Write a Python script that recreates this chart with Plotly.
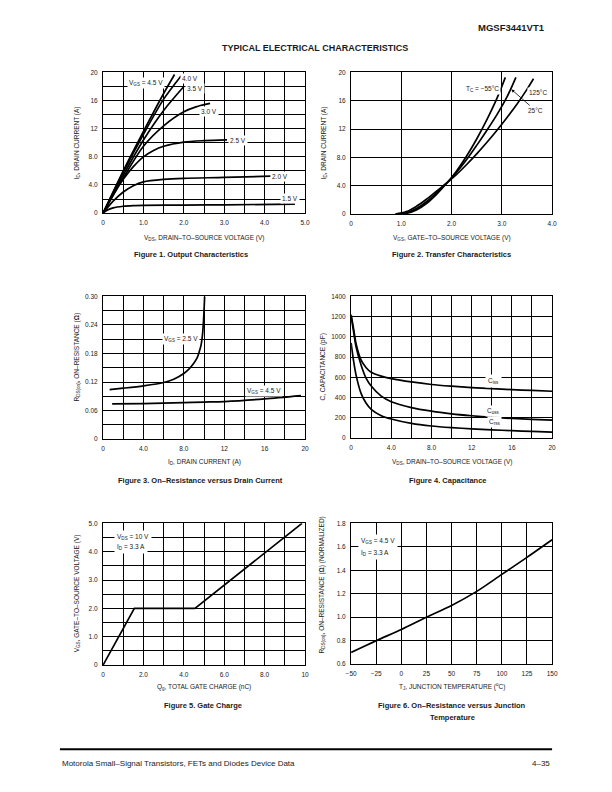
import plotly.graph_objects as go

W, H = 612, 792
FONT = "Liberation Sans, Arial, Helvetica, sans-serif"
TXT = "#1a1a1a"

# ---------------- Data ----------------
# Figure 1: Output characteristics (VDS [V] -> ID [A]) per VGS
f1_vds = {
    "4.5": [0, 0.5, 1.0, 1.5, 1.77],
    "4.0": [0, 0.5, 1.0, 1.5, 1.93],
    "3.5": [0, 0.5, 1.0, 1.5, 2.0],
    "3.0": [0, 0.5, 1.0, 1.5, 2.0, 2.3, 2.65],
    "2.5": [0, 0.25, 0.5, 0.75, 1.0, 1.25, 1.5, 2.0, 2.5, 3.07],
    "2.0": [0, 0.25, 0.5, 0.75, 1.0, 1.5, 2.0, 3.0, 4.15],
    "1.5": [0, 0.1, 0.25, 0.5, 0.75, 1.0, 2.0, 3.0, 4.75],
}
f1_id = {
    "4.5": [0, 6.0, 11.6, 17.0, 19.7],
    "4.0": [0, 5.8, 11.2, 16.2, 19.5],
    "3.5": [0, 5.4, 10.4, 14.6, 18.0],
    "3.0": [0, 5.0, 9.5, 12.4, 14.4, 15.1, 15.6],
    "2.5": [0, 2.6, 4.8, 6.6, 8.0, 8.9, 9.5, 10.1, 10.3, 10.4],
    "2.0": [0, 1.7, 3.0, 3.9, 4.45, 4.8, 4.95, 5.07, 5.25],
    "1.5": [0, 0.4, 0.75, 0.98, 1.07, 1.1, 1.15, 1.18, 1.28],
}

# Figure 2: Transfer characteristics (VGS [V] -> ID [A])
f2_vgs_m55 = [0.95, 1.1, 1.3, 1.5, 1.7, 1.92, 2.1, 2.3, 2.5, 2.7, 2.9, 3.07]
f2_id_m55 = [0, 0.1, 0.6, 1.5, 2.8, 4.5, 6.1, 8.2, 10.6, 13.3, 16.3, 19.3]
f2_vgs_25 = [0.92, 1.1, 1.3, 1.5, 1.7, 1.92, 2.1, 2.3, 2.5, 2.7, 2.9, 3.1, 3.28]
f2_id_25 = [0, 0.2, 0.8, 1.75, 3.0, 4.5, 5.9, 7.7, 9.7, 11.8, 14.0, 16.5, 19.3]
f2_vgs_125 = [0.88, 1.1, 1.3, 1.5, 1.7, 1.92, 2.1, 2.3, 2.5, 2.7, 2.9, 3.1, 3.3, 3.5, 3.63]
f2_id_125 = [0, 0.35, 1.1, 2.1, 3.25, 4.5, 5.6, 7.0, 8.5, 10.1, 11.8, 13.6, 15.5, 17.6, 19.1]

# Figure 3: On-resistance vs drain current
f3_id_25 = [0.65, 2, 4, 6, 7, 8, 8.5, 9, 9.3, 9.5, 9.7, 9.85, 9.95, 10.02, 10.06]
f3_r_25 = [0.104, 0.107, 0.112, 0.119, 0.126, 0.138, 0.147, 0.160, 0.170, 0.182,
           0.197, 0.22, 0.25, 0.28, 0.30]
f3_id_45 = [0.9, 4, 8, 10, 12, 16, 19.6]
f3_r_45 = [0.074, 0.0748, 0.0765, 0.0778, 0.079, 0.0845, 0.0915]

# Figure 4: Capacitance vs VDS
f4_vds = [0, 0.25, 0.5, 1, 1.5, 2, 3, 4, 6, 8, 10, 12, 14, 16, 18, 20]
f4_ciss = [1220, 1080, 930, 770, 695, 650, 612, 588, 555, 530, 513, 499, 489, 479, 471, 463]
f4_coss = [1200, 1050, 900, 720, 590, 515, 415, 360, 302, 266, 240, 221, 206, 195, 186, 178]
f4_crss = [940, 760, 620, 440, 345, 285, 222, 189, 146, 120, 104, 92, 82, 74, 66, 59]

# Figure 5: Gate charge
f5_qg = [0, 1.55, 4.55, 9.85]
f5_vgs = [0, 2.0, 2.0, 5.0]

# Figure 6: Normalized on-resistance vs junction temperature
f6_tj = [-50, -25, 0, 25, 50, 75, 100, 125, 150]
f6_r = [0.70, 0.80, 0.895, 1.00, 1.10, 1.22, 1.365, 1.51, 1.66]

# Tick labels
xt1 = [0, 1, 2, 3, 4, 5]; xtxt1 = ["0", "1.0", "2.0", "3.0", "4.0", "5.0"]
yt1 = [0, 4, 8, 12, 16, 20]; ytxt1 = ["0", "4.0", "8.0", "12", "16", "20"]
xt2 = [0, 1, 2, 3, 4]; xtxt2 = ["0", "1.0", "2.0", "3.0", "4.0"]
xt3 = [0, 4, 8, 12, 16, 20]; xtxt3 = ["0", "4.0", "8.0", "12", "16", "20"]
yt3 = [0, 0.06, 0.12, 0.18, 0.24, 0.30]; ytxt3 = ["0", "0.06", "0.12", "0.18", "0.24", "0.30"]
yt4 = [0, 200, 400, 600, 800, 1000, 1200, 1400]; ytxt4 = [str(v) for v in yt4]
xt5 = [0, 2, 4, 6, 8, 10]; xtxt5 = ["0", "2.0", "4.0", "6.0", "8.0", "10"]
yt5 = [0, 1, 2, 3, 4, 5]; ytxt5 = ["0", "1.0", "2.0", "3.0", "4.0", "5.0"]
xt6 = [-50, -25, 0, 25, 50, 75, 100, 125, 150]
xtxt6 = ["\u221250", "\u221225", "0", "25", "50", "75", "100", "125", "150"]
yt6 = [0.6, 0.8, 1.0, 1.2, 1.4, 1.6, 1.8]; ytxt6 = ["0.6", "0.8", "1.0", "1.2", "1.4", "1.6", "1.8"]

# ---------------- Layout helpers ----------------
def xd(a, b):
    return [a / W, b / W]

def yd(top, bottom):
    return [1 - bottom / H, 1 - top / H]

fig = go.Figure()
LINE = dict(color="black", width=1.7)

def add(x, y, n, shape="spline", smoothing=0.8):
    fig.add_trace(go.Scatter(x=x, y=y, mode="lines", line=dict(LINE, shape=shape, smoothing=smoothing),
                             xaxis="x" if n == 1 else f"x{n}", yaxis="y" if n == 1 else f"y{n}",
                             hoverinfo="skip", showlegend=False))

for k in f1_vds:
    add(f1_vds[k], f1_id[k], 1)
add(f2_vgs_m55, f2_id_m55, 2, smoothing=1.0)
add(f2_vgs_25, f2_id_25, 2, smoothing=1.0)
add(f2_vgs_125, f2_id_125, 2, smoothing=1.0)
add(f3_id_25, f3_r_25, 3)
add(f3_id_45, f3_r_45, 3)
add(f4_vds, f4_ciss, 4)
add(f4_vds, f4_coss, 4)
add(f4_vds, f4_crss, 4)
add(f5_qg, f5_vgs, 5, shape="linear")
add(f6_tj, f6_r, 6)

def axis(domain, rng, tickvals, ticktext, minor_dtick=None, anchor=None):
    d = dict(domain=domain, range=rng, tickmode="array", tickvals=tickvals, ticktext=ticktext,
             showgrid=True, gridcolor="black", gridwidth=1, zeroline=False,
             showline=True, linecolor="black", linewidth=1.2, mirror=True,
             ticks="", ticklabelstandoff=3,
             tickfont=dict(family=FONT, size=6.5, color=TXT), anchor=anchor, fixedrange=True)
    if minor_dtick:
        d["minor"] = dict(dtick=minor_dtick, tick0=rng[0], showgrid=True, gridcolor="black",
                          gridwidth=1, ticks="")
    return d

fig.update_layout(
    xaxis=axis(xd(99, 305), [0, 5], xt1, xtxt1, 0.5, "y"),
    yaxis=axis(yd(69, 211), [0, 20], yt1, ytxt1, 2, "x"),
    xaxis2=axis(xd(352, 557), [0, 4], xt2, xtxt2, None, "y2"),
    yaxis2=axis(yd(69, 212), [0, 20], yt1, ytxt1, None, "x2"),
    xaxis3=axis(xd(99, 305), [0, 20], xt3, xtxt3, 2, "y3"),
    yaxis3=axis(yd(295, 439), [0, 0.30], yt3, ytxt3, 0.03, "x3"),
    xaxis4=axis(xd(352, 557), [0, 20], xt3, xtxt3, 2, "y4"),
    yaxis4=axis(yd(295, 438), [0, 1400], yt4, ytxt4, None, "x4"),
    xaxis5=axis(xd(99, 305), [0, 10], xt5, xtxt5, 1, "y5"),
    yaxis5=axis(yd(524, 667), [0, 5], yt5, ytxt5, 0.5, "x5"),
    xaxis6=axis(xd(352, 557), [-50, 150], xt6, xtxt6, None, "y6"),
    yaxis6=axis(yd(524, 666), [0.6, 1.8], yt6, ytxt6, None, "x6"),
)

ann = []

def page_text(text, px, py, size=6.5, bold=False, xanchor="center", angle=0):
    t = f"<b>{text}</b>" if bold else text
    ann.append(dict(text=t, x=px / W, y=1 - py / H, xref="paper", yref="paper",
                    xanchor=xanchor, yanchor="middle", showarrow=False, textangle=angle,
                    font=dict(family=FONT, size=size, color=TXT)))

def data_text(text, x, y, n, xanchor="center", size=6.5, pad=1):
    ann.append(dict(text=text, x=x, y=y, xref="x" if n == 1 else f"x{n}", yref="y" if n == 1 else f"y{n}",
                    xanchor=xanchor, yanchor="middle", showarrow=False, bgcolor="white", borderpad=pad,
                    font=dict(family=FONT, size=size, color=TXT)))

# Header / footer
page_text("MGSF3441VT1", 552, 24, size=9.5, bold=True, xanchor="right")
page_text("TYPICAL ELECTRICAL CHARACTERISTICS", 315, 44, size=9, bold=True)
page_text("Motorola Small\u2013Signal Transistors, FETs and Diodes Device Data", 55, 766, size=8, xanchor="left")
page_text("4\u201335", 557, 766, size=8, xanchor="right")

# Axis titles
page_text("V<sub>DS</sub>, DRAIN\u2013TO\u2013SOURCE VOLTAGE (V)", 202, 236)
page_text("I<sub>D</sub>, DRAIN CURRENT (A)", 72, 140, angle=-90)
page_text("V<sub>GS</sub>, GATE\u2013TO\u2013SOURCE VOLTAGE (V)", 455, 236)
page_text("I<sub>D</sub>, DRAIN CURRENT (A)", 324, 140, angle=-90)
page_text("I<sub>D</sub>, DRAIN CURRENT (A)", 202, 462)
page_text("R<sub>DS(on)</sub>, ON\u2013RESISTANCE (<b>\u03a9</b>)", 72, 356, angle=-90)
page_text("V<sub>DS</sub>, DRAIN\u2013TO\u2013SOURCE VOLTAGE (V)", 455, 462)
page_text("C, CAPACITANCE (pF)", 323, 366, angle=-90)
page_text("Q<sub>g</sub>, TOTAL GATE CHARGE (nC)", 202, 689)
page_text("V<sub>GS</sub>, GATE\u2013TO\u2013SOURCE VOLTAGE (V)", 72, 595, angle=-90)
page_text("T<sub>J</sub>, JUNCTION TEMPERATURE (<sup>o</sup>C)", 455, 689)
page_text("R<sub>DS(on)</sub>, ON\u2013RESISTANCE (<b>\u03a9</b>) (NORMALIZED)", 322, 586, angle=-90)

# Captions
page_text("Figure 1. Output Characteristics", 189, 253, size=7.5, bold=True)
page_text("Figure 2. Transfer Characteristics", 454, 253, size=7.5, bold=True)
page_text("Figure 3. On\u2013Resistance versus Drain Current", 198, 481, size=7.5, bold=True)
page_text("Figure 4. Capacitance", 451, 481, size=7.5, bold=True)
page_text("Figure 5. Gate Charge", 201, 708, size=7.5, bold=True)
page_text("Figure 6. On\u2013Resistance versus Junction", 455, 708, size=7.5, bold=True)
page_text("Temperature", 455, 720, size=7.5, bold=True)

# Curve labels - Fig1
data_text("V<sub>GS</sub> = 4.5 V", 1.07, 18.45, 1)
data_text("4.0 V", 2.16, 19.15, 1)
data_text("3.5 V", 2.28, 17.75, 1)
data_text("3.0 V", 2.62, 14.4, 1)
data_text("2.5 V", 3.35, 10.3, 1)
data_text("2.0 V", 4.39, 5.2, 1)
data_text("1.5 V", 4.64, 2.1, 1)
# Fig2
data_text("T<sub>C</sub> = \u221255\u00b0C", 2.99, 17.6, 2, xanchor="right")
data_text("125\u00b0C", 3.72, 17.2, 2)
ann.append(dict(text="25\u00b0C", x=3.19, y=17.6, xref="x2", yref="y2", ax=24, ay=21,
                showarrow=True, arrowhead=2, arrowsize=0.8, arrowwidth=0.8, arrowcolor="black",
                bgcolor="white", font=dict(family=FONT, size=6.5, color=TXT)))
# Fig3
data_text("V<sub>GS</sub> = 2.5 V", 7.72, 0.210, 3)
data_text("V<sub>GS</sub> = 4.5 V", 15.97, 0.102, 3)
# Fig4
data_text("C<sub>iss</sub>", 14.18, 560, 4, pad=2)
data_text("C<sub>oss</sub>", 14.13, 270, 4)
data_text("C<sub>rss</sub>", 14.23, 157, 4)
# Fig5
data_text("V<sub>DS</sub> = 10 V", 0.53, 4.52, 5, xanchor="left", pad=2)
data_text("I<sub>D</sub> = 3.3 A", 0.53, 4.18, 5, xanchor="left", pad=2)
# Fig6
data_text("V<sub>GS</sub> = 4.5 V", -43.6, 1.65, 6, xanchor="left", pad=2)
data_text("I<sub>D</sub> = 3.3 A", -43.6, 1.55, 6, xanchor="left", pad=2)

fig.update_layout(
    annotations=ann,
    width=W, height=H, margin=dict(l=0, r=0, t=0, b=0),
    paper_bgcolor="white", plot_bgcolor="white", showlegend=False,
    shapes=[dict(type="line", xref="paper", yref="paper", x0=55 / W, x1=557 / W,
                 y0=1 - 752 / H, y1=1 - 752 / H, line=dict(color="black", width=2))],
)

fig.write_html("out.html", config={"displayModeBar": False},
               post_script="document.body.style.margin='0';document.body.style.overflow='hidden';")
